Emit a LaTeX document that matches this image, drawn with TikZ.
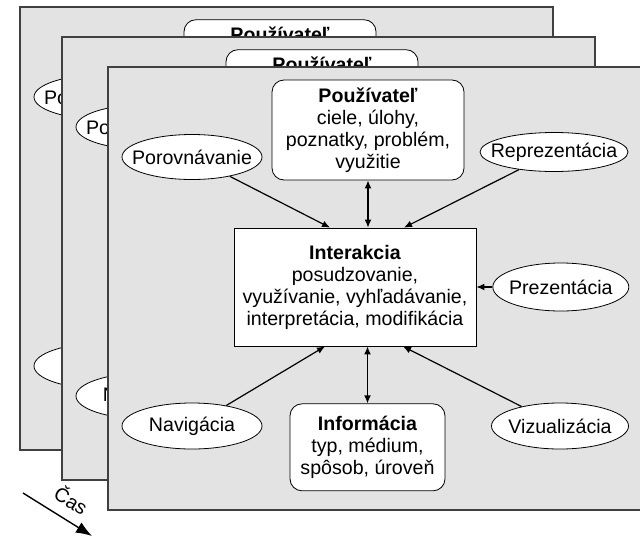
\documentclass[tikz,border=0pt]{standalone}
\usepackage{fontspec}
\setmainfont{Liberation Sans}
\usetikzlibrary{positioning,shapes.geometric,arrows.meta}
\definecolor{sheetgray}{gray}{0.89}
\newcommand*{\ovaltext}[1]{\makebox[0pt]{#1}}
\tikzset{
  sheet/.style={draw=black!75, line width=0.7pt, fill=sheetgray},
  oval/.style={ellipse, draw, thin, fill=white, inner sep=0pt},
  roundbox/.style={draw, thin, fill=white, rounded corners=6pt, align=center},
  mainbox/.style={draw, thin, fill=white, align=center},
  link/.style={line width=0.6pt, -{Latex[length=4pt,width=3.4pt]}},
  twoway/.style={line width=0.6pt, {Latex[length=4pt,width=3.4pt]}-{Latex[length=4pt,width=3.4pt]}},
}

\begin{document}
\begin{tikzpicture}[x=0.5pt, y=-0.5pt, font=\fontsize{9.8}{11}\selectfont]
  \useasboundingbox (0,0) rectangle (640,535);
  \clip (0,0) rectangle (640,535);

  % One sheet per moment in time, the newest (3) in front;
  % of the older sheets only the top and left nodes show
  \foreach \px/\py/\k in {20/7/1, 62/37/2, 108/67/3} {
  \begin{scope}[shift={(\px,\py)}]
    \draw[sheet] (0,0) rectangle (533,443);
    \ifnum\k=3
      \def\userlines{ciele, úlohy,\\ poznatky, problém,\\ využitie}
    \else
      \def\userlines{\strut\\ \strut\\ \strut}
    \fi

    % Define nodes
    \node[roundbox, minimum width=96pt, minimum height=50pt]  (user\k) at (260,63)
      {\textbf{Používateľ}\\ \userlines};
    \node[oval, minimum width=70pt, minimum height=22.5pt]  (porov\k) at (84,90) {\ovaltext{Porovnávanie}};
    \node[oval, minimum width=70pt, minimum height=23pt]  (navig\k) at (84,359) {\ovaltext{Navigácia}};
    \ifnum\k=3
    \node[mainbox, minimum width=121pt, minimum height=59pt]  (inter\k) at (247,220)
      {\textbf{Interakcia}\\ posudzovanie,\\ využívanie, vyhľadávanie,\\ interpretácia, modifikácia};
    \node[roundbox, below=28.5pt of inter\k, xshift=6.25pt, minimum width=77.5pt, minimum height=43.5pt]  (info\k)
      {\textbf{Informácia}\\ typ, médium,\\ spôsob, úroveň};
    \node[oval, minimum width=74pt, minimum height=19.5pt]  (repr\k) at (446,85) {\ovaltext{Reprezentácia}};
    \node[oval, right=8pt of inter\k, minimum width=68pt, minimum height=24pt]  (prez\k) {\ovaltext{Prezentácia}};
    \node[oval, minimum width=68.5pt, minimum height=23pt]  (viz\k) at (452,359) {\ovaltext{Vizualizácia}};

    % Connect the nodes
    \draw[link] (porov\k) -- ([xshift=-12.5pt]inter\k.north);
    \draw[link] (repr\k) -- ([xshift=24.5pt]inter\k.north);
    \draw[link] (prez\k) -- (inter\k.east);
    \draw[link] (navig\k) -- ([xshift=-15pt]inter\k.south);
    \draw[link] (viz\k) -- ([xshift=24pt]inter\k.south);
    \draw[twoway] (user\k.south) -- (user\k.south |- inter\k.north);
    \draw[twoway] (info\k.north) -- (info\k.north |- inter\k.south);
    \fi
  \end{scope}
  }

  % Time axis
  \coordinate (t0) at (23,493);
  \coordinate (t1) at (92,536);
  \draw[line width=0.7pt, -{Latex[length=8pt,width=6pt]}] (t0) -- node[pos=0.55, above=2pt, sloped] (cas) {Čas} (t1);

\end{tikzpicture}
\end{document}
